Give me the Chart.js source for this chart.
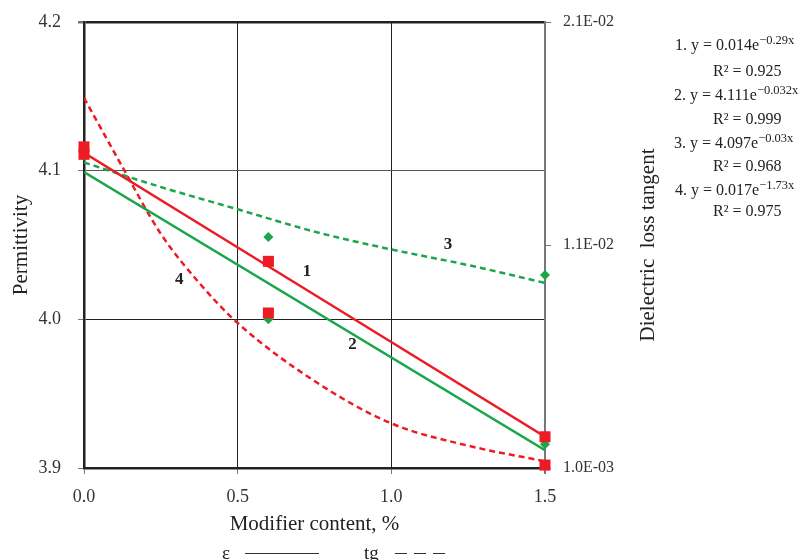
<!DOCTYPE html>
<html>
<head>
<meta charset="utf-8">
<script src="https://cdn.jsdelivr.net/npm/chart.js@4.4.1/dist/chart.umd.min.js"></script>
<style>
html, body { margin: 0; padding: 0; background: #fff; overflow: hidden; }
#wrap { position: relative; width: 803px; height: 560px; overflow: hidden; }
#chart { position: absolute; left: 0; top: 0; }
.eq { position: absolute; font-family: "Liberation Serif", serif; font-size: 16px; color: #222; white-space: nowrap; line-height: 18px; }
.eq sup { font-size: 12.5px; vertical-align: 6px; line-height: 0; }
#legend { position: absolute; left: 0; top: 542px; font-family: "Liberation Serif", serif; font-size: 19px; color: #222; white-space: nowrap; line-height: 22px; }
#legend span { position: absolute; top: 0; }
#legend .ln { height: 0; border-top: 1px solid #333; top: 11px; }
</style>
</head>
<body>
<div id="wrap">
  <canvas id="chart" width="803" height="560"></canvas>
  <div class="eq" style="left:675px; top:36px;">1. y = 0.014e<sup>−0.29x</sup></div>
  <div class="eq" style="left:713px; top:62px;">R² = 0.925</div>
  <div class="eq" style="left:674px; top:86px;">2. y = 4.111e<sup>−0.032x</sup></div>
  <div class="eq" style="left:713px; top:110px;">R² = 0.999</div>
  <div class="eq" style="left:674px; top:134px;">3. y = 4.097e<sup>−0.03x</sup></div>
  <div class="eq" style="left:713px; top:157px;">R² = 0.968</div>
  <div class="eq" style="left:675px; top:181px;">4. y = 0.017e<sup>−1.73x</sup></div>
  <div class="eq" style="left:713px; top:202px;">R² = 0.975</div>
  <div id="legend">
    <span style="left:222px;">ε</span>
    <span class="ln" style="left:245px; width:74px;"></span>
    <span style="left:364px;">tg</span>
    <span class="ln" style="left:395px; width:12px;"></span>
    <span class="ln" style="left:414px; width:12px;"></span>
    <span class="ln" style="left:433px; width:12px;"></span>
  </div>
</div>
<script>
// Axes
const xTicks = [0, 0.5, 1.0, 1.5];
const epsTicks = [3.9, 4.0, 4.1, 4.2];
const tgTicks = [0.001, 0.011, 0.021];

// Measured points
const content = [0, 0.6, 1.5];
const epsRed = [4.111, 4.039, 3.921];
const epsGreen = [4.110, 4.000, 3.916];
const tgRed = [0.0154, 0.00795, 0.00113];
const tgGreen = [0.0150, 0.01136, 0.00965];

// Trend lines
const trendEpsX = [0, 1.5];
const trend1 = [4.112, 3.921];
const trend2 = [4.099, 3.912];
const trend3X = [0, 0.25, 0.5, 0.75, 1.0, 1.25, 1.5];
const trend3 = [0.0147, 0.0136, 0.0126, 0.0116, 0.0108, 0.0101, 0.0093];
const trend4X = [0, 0.125, 0.25, 0.375, 0.5, 0.75, 1.0, 1.25, 1.5];
const trend4 = [0.0176, 0.0145, 0.0115, 0.0093, 0.0075, 0.0049, 0.0030, 0.0020, 0.0013];

const RED = '#ed1c24';
const GREEN = '#1ba64b';
const SERIF = "'Liberation Serif', 'Times New Roman', serif";

function pts(xs, ys) {
    return xs.map((x, i) => ({ x: x, y: ys[i] }));
}

function markers(xs, ys, color, style, r, axis) {
    return {
        data: pts(xs, ys),
        yAxisID: axis,
        showLine: false,
        clip: false,
        pointStyle: style,
        pointRadius: r,
        pointBackgroundColor: color,
        pointBorderColor: color,
        pointBorderWidth: 0,
        borderColor: color,
        backgroundColor: color
    };
}

function trend(xs, ys, color, dashed, axis) {
    return {
        data: pts(xs, ys),
        yAxisID: axis,
        borderColor: color,
        borderWidth: 2.5,
        borderDash: dashed ? [6, 4] : [],
        pointRadius: 0,
        cubicInterpolationMode: 'monotone',
        fill: false
    };
}

// Numbers 1..4 next to the curves, and right axis title
const curveLabels = [
    { text: '1', x: 0.726, y: 4.032 },
    { text: '2', x: 0.874, y: 3.983 },
    { text: '3', x: 1.184, y: 4.050 },
    { text: '4', x: 0.310, y: 4.027 }
];

const extras = {
    id: 'extras',
    afterDatasetsDraw(chart) {
        const ctx = chart.ctx;
        const sx = chart.scales.x, sy = chart.scales.y;
        ctx.save();
        ctx.fillStyle = '#222';
        ctx.font = 'bold 17px ' + SERIF;
        ctx.textAlign = 'center';
        ctx.textBaseline = 'middle';
        curveLabels.forEach(l => {
            ctx.fillText(l.text, sx.getPixelForValue(l.x), sy.getPixelForValue(l.y));
        });
        // right axis title, reading bottom to top
        const a = chart.chartArea;
        ctx.translate(648, (a.top + a.bottom) / 2);
        ctx.rotate(-Math.PI / 2);
        ctx.font = '21px ' + SERIF;
        ctx.fillText('Dielectric  loss tangent', 0, 0);
        ctx.restore();
    }
};

function fmtExp(v) {
    const parts = v.toExponential(1).split('e');
    const e = parseInt(parts[1], 10);
    const sign = e < 0 ? '-' : '+';
    return parts[0] + 'E' + sign + String(Math.abs(e)).padStart(2, '0');
}

function fitVertical(width) {
    return s => {
        s.width = width;
        s.paddingTop = 0;
        s.paddingBottom = 0;
    };
}

new Chart(document.getElementById('chart'), {
    type: 'line',
    data: {
        datasets: [
            markers(content, epsRed, RED, 'rect', 7.8, 'y'),
            markers(content, tgRed, RED, 'rect', 7.8, 'y1'),
            markers(content, epsGreen, GREEN, 'rectRot', 5, 'y'),
            markers(content, tgGreen, GREEN, 'rectRot', 5, 'y1'),
            trend(trendEpsX, trend1, RED, false, 'y'),
            trend(trendEpsX, trend2, GREEN, false, 'y'),
            trend(trend3X, trend3, GREEN, true, 'y1'),
            trend(trend4X, trend4, RED, true, 'y1')
        ]
    },
    options: {
        responsive: false,
        animation: false,
        layout: { padding: { top: 22, right: 158, bottom: 0, left: 0 } },
        plugins: {
            legend: { display: false },
            tooltip: { enabled: false }
        },
        scales: {
            x: {
                type: 'linear',
                min: 0,
                max: 1.5,
                afterBuildTicks: s => { s.ticks = xTicks.map(v => ({ value: v })); },
                afterFit: s => { s.height = 92; s.paddingLeft = 0; s.paddingRight = 0; },
                ticks: {
                    color: '#333',
                    padding: 12,
                    maxRotation: 0,
                    font: { family: SERIF, size: 18 },
                    callback: v => Number(v).toFixed(1)
                },
                grid: {
                    color: ctx => ctx.tick && ctx.tick.value === 1.5 ? '#777' : '#222',
                    lineWidth: ctx => ctx.tick && ctx.tick.value === 1.5 ? 2 : 1,
                    tickLength: 6,
                    tickColor: '#777'
                },
                border: { color: '#222', width: 2.5 },
                title: {
                    display: true,
                    text: 'Modifier content, %',
                    color: '#222',
                    font: { family: SERIF, size: 21 },
                    padding: { top: 0, bottom: 23 }
                }
            },
            y: {
                position: 'left',
                min: 3.9,
                max: 4.2,
                afterBuildTicks: s => { s.ticks = epsTicks.map(v => ({ value: v })); },
                afterFit: fitVertical(84),
                ticks: {
                    color: '#333',
                    padding: 17,
                    font: { family: SERIF, size: 18 },
                    callback: v => Number(v).toFixed(1)
                },
                grid: {
                    color: ctx => ctx.tick && ctx.tick.value === 4.1 ? '#555' : '#222',
                    lineWidth: ctx => ctx.tick && ctx.tick.value === 4.2 ? 2.5 : 1,
                    tickLength: 6,
                    tickColor: '#777'
                },
                border: { color: '#222', width: 2.5 },
                title: {
                    display: true,
                    text: 'Permittivity',
                    color: '#222',
                    font: { family: SERIF, size: 21 },
                    padding: { top: 9, bottom: 0 }
                }
            },
            y1: {
                position: 'right',
                min: 0.001,
                max: 0.021,
                afterBuildTicks: s => { s.ticks = tgTicks.map(v => ({ value: v })); },
                afterFit: fitVertical(100),
                ticks: {
                    color: '#333',
                    padding: 12,
                    font: { family: SERIF, size: 16 },
                    callback: v => fmtExp(v)
                },
                grid: {
                    drawOnChartArea: false,
                    tickLength: 6,
                    tickColor: '#777'
                },
                border: { color: '#777', width: 2 }
            }
        }
    },
    plugins: [extras]
});
</script>
</body>
</html>
